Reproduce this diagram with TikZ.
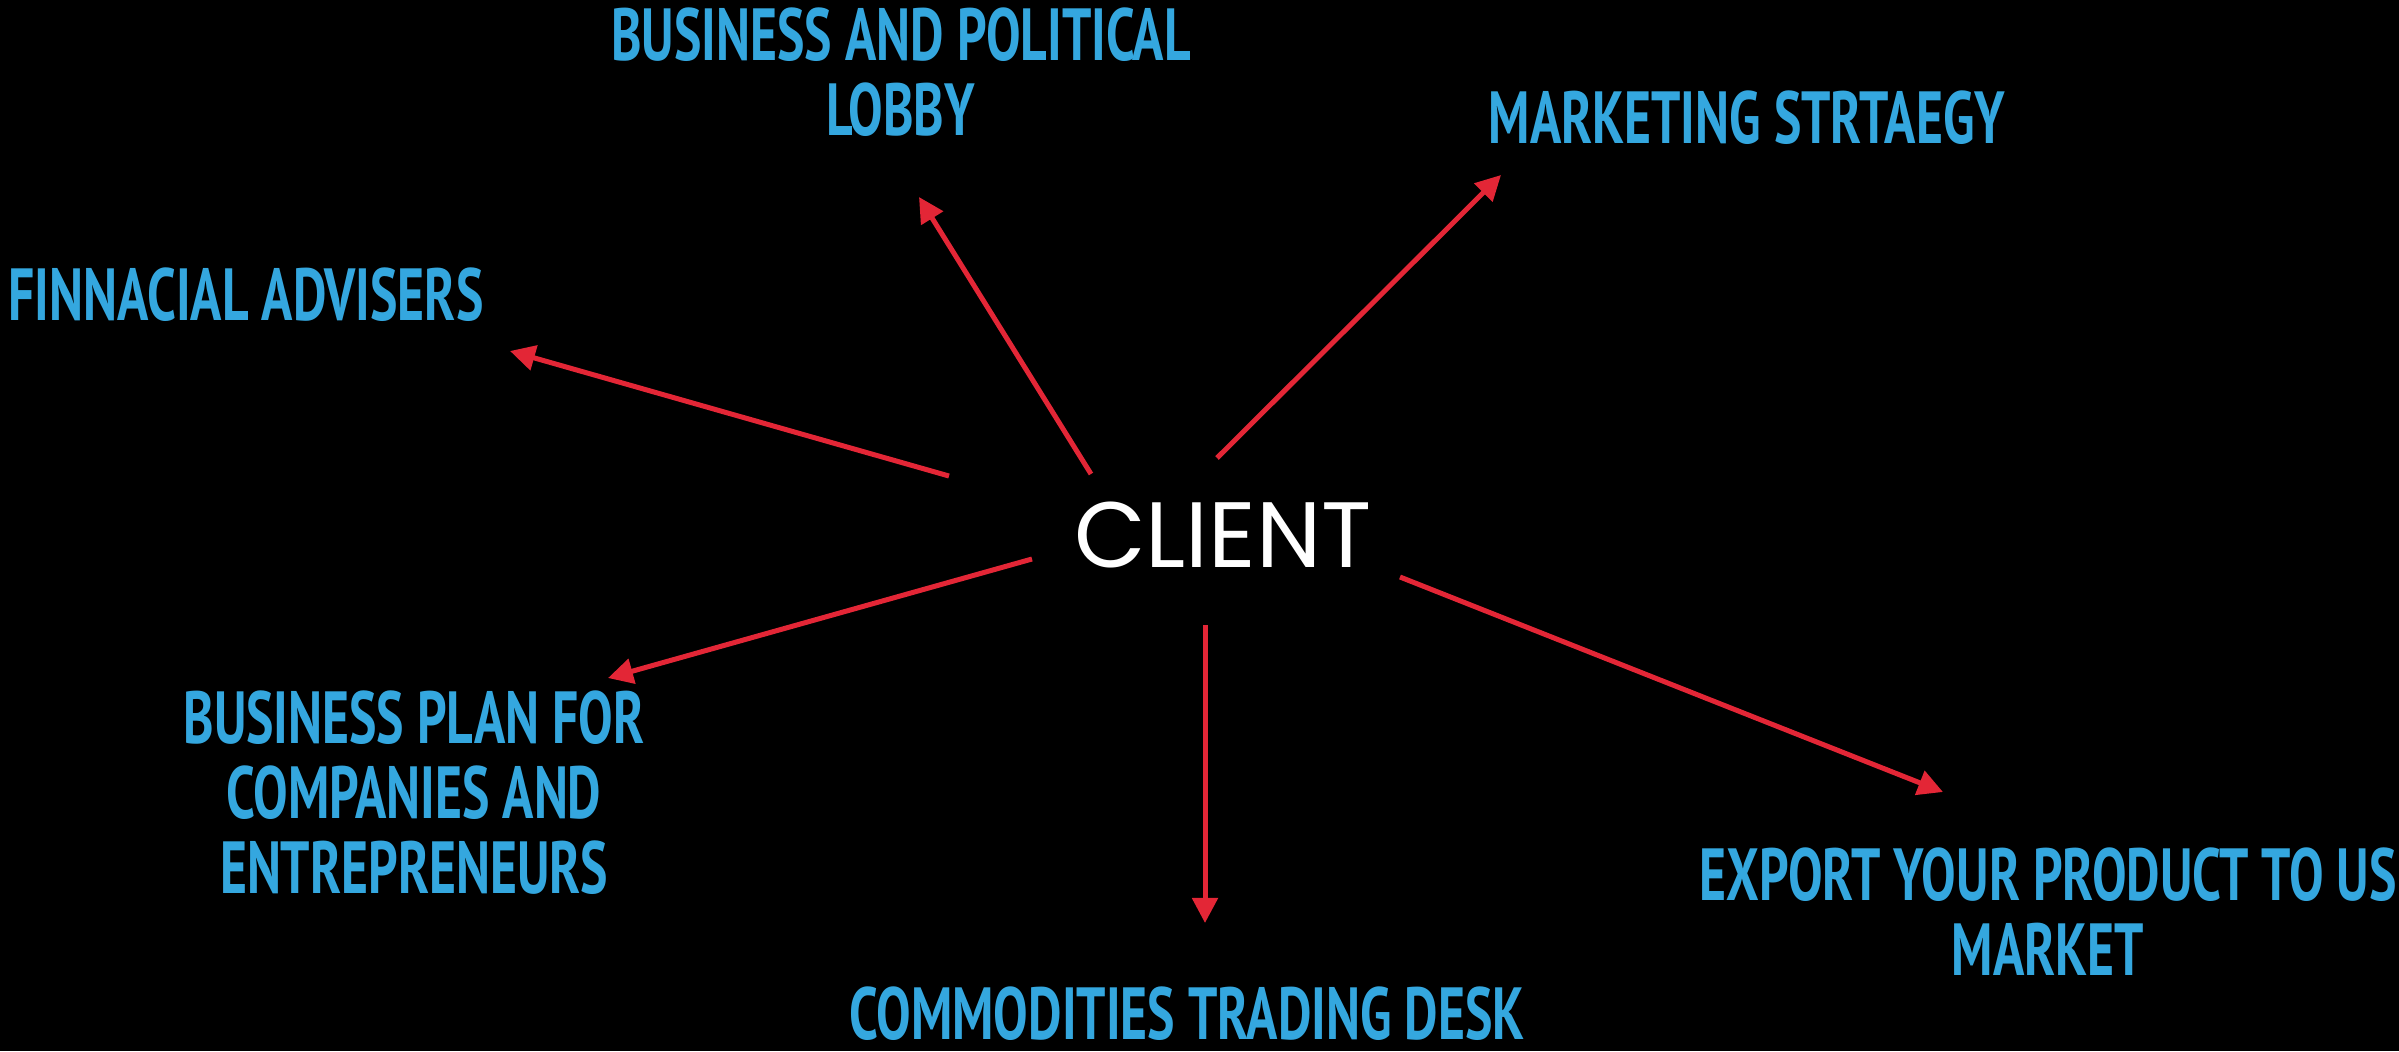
\documentclass[tikz,border=0pt]{standalone}
\usepackage{fontspec}
\usetikzlibrary{arrows.meta}
\newfontfamily\dinfont[FakeStretch=0.70]{PT Sans}
\newfontfamily\clientfont{Poppins}
\definecolor{labelblue}{RGB}{52,167,223}
\definecolor{arrowred}{RGB}{227,38,54}
\tikzset{
	topic/.style={text=labelblue, font={\dinfont\bfseries\fontsize{21}{21.34}\selectfont}, align=center, inner sep=0pt},
	link/.style={draw=arrowred, line width=0.05cm, -{Triangle[length=0.25cm,width=0.25cm]}}
}

\begin{document}
\begin{tikzpicture}[x=0.01cm, y=-0.01cm]

	\path[use as bounding box, fill=black] (0,0) rectangle (2399,1051);

	\node[text=white, font={\clientfont\fontsize{26.4}{30}\selectfont}, inner sep=0pt, anchor=base] (C) at (1223,567) {CLIENT};

	\node[topic, anchor=north] (L) at (901,7) {BUSINESS AND POLITICAL\\LOBBY};
	\node[topic, anchor=north] (M) at (1747,90) {MARKETING STRTAEGY};
	\node[topic, anchor=north west] (F) at (8,267) {FINNACIAL ADVISERS};
	\node[topic, anchor=north] (P) at (414,690) {BUSINESS PLAN FOR\\COMPANIES AND\\ENTREPRENEURS};
	\node[topic, anchor=north] (D) at (1187,986) {COMMODITIES TRADING DESK};
	\node[topic, anchor=north] (E) at (2048,847) {EXPORT YOUR PRODUCT TO US\\MARKET};

	% arrow ends
	\coordinate (cL) at (1091,474);
	\coordinate (tL) at (919,197);
	\coordinate (cM) at (1217,458);
	\coordinate (tM) at (1501,175);
	\coordinate (cF) at (949,476);
	\coordinate (tF) at (510,351);
	\coordinate (cP) at (1032,559);
	\coordinate (tP) at (608,678);
	\coordinate (cD) at (1205,625);
	\coordinate (tD) at (1205,923);
	\coordinate (cE) at (1400,577);
	\coordinate (tE) at (1943,792);

	\draw[link] (cL) -- (tL);
	\draw[link] (cM) -- (tM);
	\draw[link] (cF) -- (tF);
	\draw[link] (cP) -- (tP);
	\draw[link] (cD) -- (tD);
	\draw[link] (cE) -- (tE);
\end{tikzpicture}
\end{document}
